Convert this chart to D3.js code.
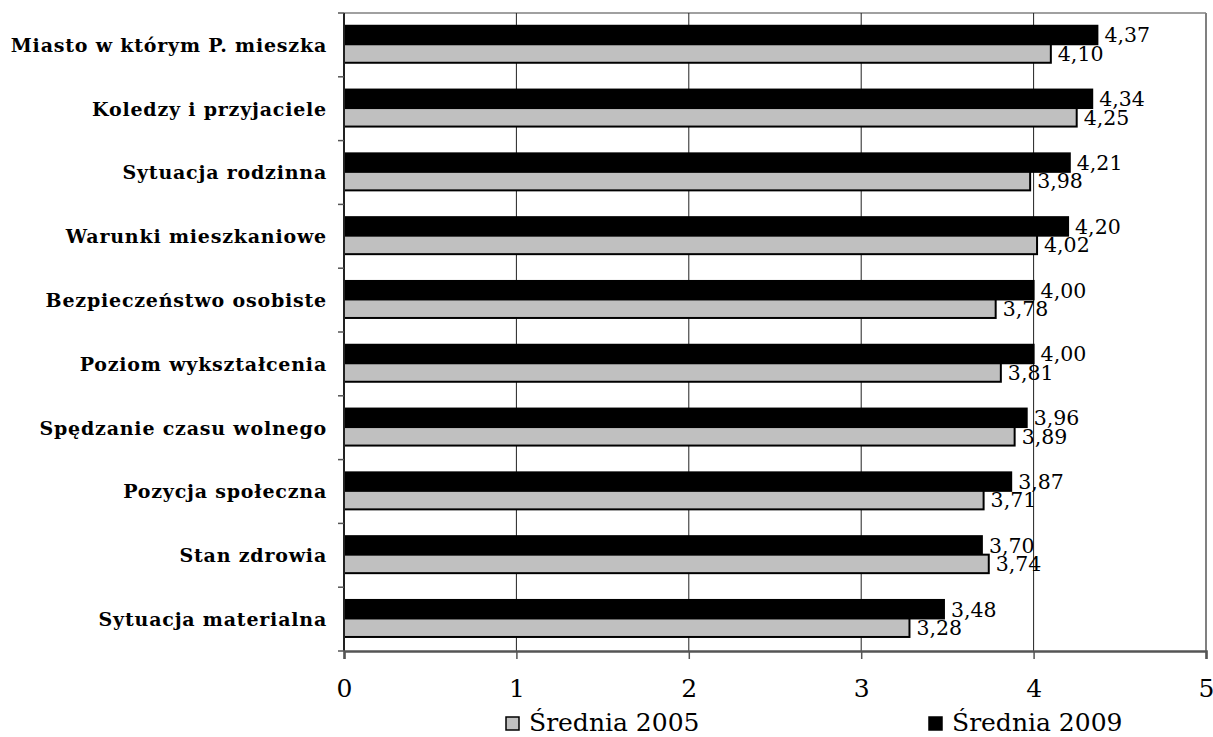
<!DOCTYPE html>
<html><head><meta charset="utf-8">
<script src="https://cdn.jsdelivr.net/npm/d3@7"></script>
<style>body{margin:0;background:#fff}svg{display:block}text{font-family:"DejaVu Serif",serif}</style>
</head><body>
<script>
const categories = ["Miasto w którym P. mieszka","Koledzy i przyjaciele","Sytuacja rodzinna","Warunki mieszkaniowe","Bezpieczeństwo osobiste","Poziom wykształcenia","Spędzanie czasu wolnego","Pozycja społeczna","Stan zdrowia","Sytuacja materialna"];
const values2009 = [4.37,4.34,4.21,4.20,4.00,4.00,3.96,3.87,3.70,3.48];
const values2005 = [4.10,4.25,3.98,4.02,3.78,3.81,3.89,3.71,3.74,3.28];
const seriesNames = ["Średnia 2009","Średnia 2005"];
const seriesColors = ["#000000","#c0c0c0"];
const xTicks = [0,1,2,3,4,5];

const W=1213,H=737;
const svg=d3.select("body").append("svg").attr("width",W).attr("height",H);
const L=344,R=1206,T=13,B=651;
const x=d3.scaleLinear().domain([0,5]).range([L,R]);
const y=d3.scaleBand().domain(categories).range([T,B]).padding(0);
const ys=d3.scaleBand().domain(seriesNames).range([y.bandwidth()*0.2,y.bandwidth()*0.78]).padding(0);

// plot border (top/right grey)
svg.append("line").attr("x1",L).attr("x2",R).attr("y1",T).attr("y2",T).attr("stroke","#808080").attr("stroke-width",1.5);
svg.append("line").attr("x1",R).attr("x2",R).attr("y1",T).attr("y2",B).attr("stroke","#808080").attr("stroke-width",2);
// gridlines
svg.append("g").selectAll("line").data(xTicks.filter(d=>d>0&&d<5)).join("line")
 .attr("x1",d=>x(d)).attr("x2",d=>x(d)).attr("y1",T).attr("y2",B).attr("stroke","#222").attr("stroke-width",1);

const data=categories.map((c,i)=>({c,vals:[{s:seriesNames[0],v:values2009[i]},{s:seriesNames[1],v:values2005[i]}]}));
const fmt=v=>v.toFixed(2).replace(".",",");
const g=svg.append("g").selectAll("g").data(data).join("g").attr("transform",d=>`translate(0,${y(d.c)})`);
g.selectAll("rect").data(d=>d.vals).join("rect")
 .attr("x",x(0)).attr("y",d=>ys(d.s)).attr("width",d=>x(d.v)-x(0)).attr("height",ys.bandwidth())
 .attr("fill",(d,i)=>seriesColors[i]).attr("stroke","#000").attr("stroke-width",2);
g.selectAll("text.val").data(d=>d.vals).join("text").attr("class","val")
 .attr("x",d=>x(d.v)+7).attr("y",d=>ys(d.s)+ys.bandwidth()/2).attr("dy","0.36em")
 .attr("font-size",20.5).attr("fill","#000").text(d=>fmt(d.v));

// y axis
const ya=svg.append("g").attr("transform",`translate(${L},0)`);
ya.append("line").attr("x1",0).attr("x2",0).attr("y1",T).attr("y2",B).attr("stroke","#222").attr("stroke-width",2);
ya.selectAll("line.t").data(d3.range(categories.length+1)).join("line").attr("class","t")
 .attr("x1",-6).attr("x2",0).attr("y1",i=>T+i*y.step()).attr("y2",i=>T+i*y.step()).attr("stroke","#555").attr("stroke-width",1.5);
ya.selectAll("text").data(categories).join("text")
 .attr("x",-17).attr("y",d=>y(d)+y.bandwidth()/2).attr("dy","0.36em").attr("text-anchor","end")
 .attr("font-weight","bold").attr("font-size",19).attr("letter-spacing",0.8).text(d=>d);

// x axis
const xa=svg.append("g").attr("transform",`translate(0,${B})`)
 .call(d3.axisBottom(x).tickValues(xTicks).tickFormat(d3.format("d")).tickSize(8));
xa.select(".domain").attr("stroke","#555").attr("stroke-width",2.5);
xa.selectAll(".tick line").attr("stroke","#555").attr("stroke-width",1.5);
xa.selectAll(".tick text").attr("font-family","DejaVu Serif").attr("font-size",25).attr("fill","#000").attr("y",46).attr("dy",0);

// legend
const leg=[{n:"Średnia 2005",c:seriesColors[1],x:505},{n:"Średnia 2009",c:seriesColors[0],x:928}];
const lg=svg.append("g").selectAll("g").data(leg).join("g").attr("transform",d=>`translate(${d.x},731)`);
lg.append("rect").attr("x",1).attr("y",-14).attr("width",13).attr("height",13).attr("fill",d=>d.c).attr("stroke","#000").attr("stroke-width",1.5);
lg.append("text").attr("x",24).attr("y",0).attr("font-size",25).text(d=>d.n);
</script>
</body></html>
